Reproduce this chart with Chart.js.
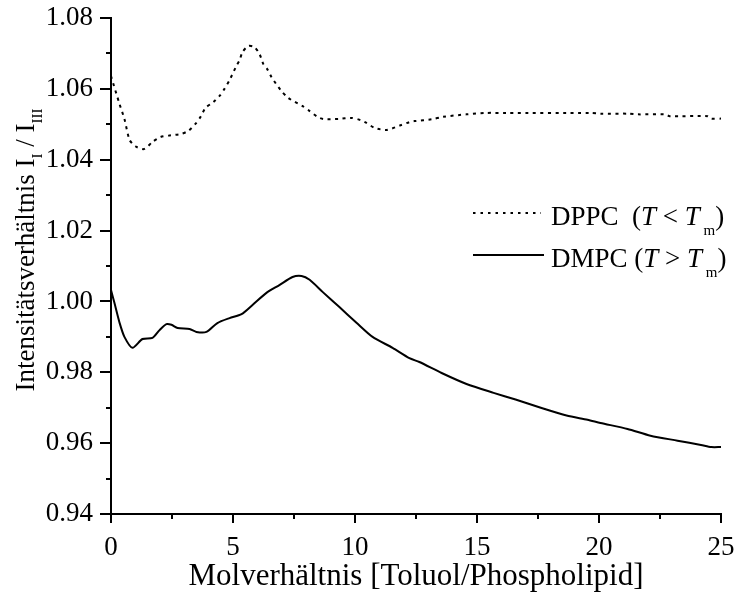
<!DOCTYPE html>
<html>
<head>
<meta charset="utf-8">
<script src="https://cdn.jsdelivr.net/npm/chart.js@4/dist/chart.umd.min.js"></script>
<style>
  html, body { margin: 0; padding: 0; background: #fff; }
  #wrap { width: 735px; height: 595px; }
</style>
</head>
<body>
<div id="wrap"><canvas id="lineChart"></canvas></div>
<script>
// Molverhaeltnis (x) und Intensitaetsverhaeltnis (y)
var dppcX = [0, 0.35, 0.55, 0.76, 1.0, 1.35, 1.7, 2.03, 2.36, 2.89, 3.18, 3.46, 3.67, 3.87, 4.2, 4.45, 4.65, 4.86, 5.14, 5.27, 5.39, 5.63, 5.88, 6.09, 6.25, 6.41, 6.58, 6.95, 7.27, 7.84, 8.13, 8.46, 8.7, 9.32, 9.86, 10.23, 10.47, 10.8, 11.29, 11.9, 12.23, 12.44, 13.14, 13.6, 14.57, 15.39, 16.2, 19.65, 20.06, 21.2, 21.6, 22.7, 22.9, 24.45, 24.6, 25];
var dppcY = [1.0636, 1.0557, 1.0515, 1.0456, 1.0438, 1.0430, 1.0450, 1.0464, 1.0468, 1.0473, 1.0482, 1.0501, 1.0521, 1.0546, 1.0563, 1.0580, 1.0600, 1.0625, 1.0665, 1.0681, 1.0704, 1.0721, 1.0718, 1.0698, 1.0669, 1.0655, 1.0633, 1.0597, 1.0574, 1.0552, 1.0538, 1.0521, 1.0515, 1.0515, 1.0518, 1.0512, 1.0504, 1.0490, 1.0484, 1.0498, 1.0506, 1.0509, 1.0514, 1.0521, 1.0528, 1.0532, 1.0532, 1.0532, 1.0530, 1.0530, 1.0528, 1.0528, 1.0523, 1.0523, 1.0516, 1.0516];

var dmpcX = [0, 0.14, 0.35, 0.55, 0.88, 1.29, 1.7, 1.99, 2.27, 2.48, 2.73, 3.22, 3.5, 3.91, 4.36, 4.86, 5.35, 5.8, 6.37, 6.9, 7.44, 7.81, 8.14, 8.67, 9.36, 10.06, 10.72, 11.54, 12.23, 12.64, 13.55, 14.57, 15.68, 16.58, 17.52, 18.67, 19.53, 20.06, 21.17, 22.11, 23.22, 24.18, 24.6, 25];
var dmpcY = [1.0032, 0.9996, 0.9940, 0.9900, 0.9869, 0.9894, 0.9897, 0.9919, 0.9936, 0.9934, 0.9925, 0.9922, 0.9914, 0.9914, 0.9939, 0.9953, 0.9964, 0.9990, 1.0024, 1.0046, 1.0069, 1.0072, 1.0061, 1.0027, 0.9984, 0.9940, 0.9900, 0.9869, 0.9840, 0.9829, 0.9798, 0.9767, 0.9742, 0.9723, 0.9702, 0.9678, 0.9666, 0.9657, 0.9640, 0.9621, 0.9607, 0.9595, 0.9589, 0.9589];

var xTicks = [0, 5, 10, 15, 20, 25];
var xMinorTicks = [2.5, 7.5, 12.5, 17.5, 22.5];
var yTicks = [0.94, 0.96, 0.98, 1.00, 1.02, 1.04, 1.06, 1.08];
var yMinorTicks = [0.95, 0.97, 0.99, 1.01, 1.03, 1.05, 1.07];

var FONT = "'Liberation Serif', 'Times New Roman', serif";

function toPoints(xs, ys) {
    var pts = [];
    for (var i in xs) {
        pts.push({x: xs[i], y: ys[i]});
    }
    return pts;
}

// Text mit kursiven Teilen und Indizes zeichnen
function drawRich(ctx, parts, x, y, size, subDrop) {
    var cx = x;
    for (var i = 0; i < parts.length; i++) {
        var p = parts[i];
        var s = p.sub ? Math.round(size * 0.55) : size;
        ctx.font = (p.italic ? 'italic ' : '') + s + 'px ' + FONT;
        ctx.fillText(p.t, cx, p.sub ? y + size * subDrop : y);
        cx += ctx.measureText(p.t).width;
    }
    return cx;
}

var extras = {
    id: 'extras',
    afterDraw: function(chart) {
        var ctx = chart.ctx;
        var xs = chart.scales.x, ys = chart.scales.y;
        var area = chart.chartArea;
        ctx.save();
        ctx.strokeStyle = '#000';
        ctx.lineWidth = 2;
        // kleine Striche
        yMinorTicks.forEach(function(v) {
            var py = Math.round(ys.getPixelForValue(v));
            ctx.beginPath();
            ctx.moveTo(area.left - 5, py);
            ctx.lineTo(area.left, py);
            ctx.stroke();
        });
        xMinorTicks.forEach(function(v) {
            var px = Math.round(xs.getPixelForValue(v));
            ctx.beginPath();
            ctx.moveTo(px, area.bottom);
            ctx.lineTo(px, area.bottom + 5);
            ctx.stroke();
        });

        // Legende
        ctx.fillStyle = '#000';
        ctx.textBaseline = 'alphabetic';
        ctx.textAlign = 'left';
        ctx.lineWidth = 2;
        ctx.setLineDash([2.5, 5]);
        ctx.beginPath();
        ctx.moveTo(473, 213);
        ctx.lineTo(541, 213);
        ctx.stroke();
        ctx.setLineDash([]);
        ctx.beginPath();
        ctx.moveTo(473, 255);
        ctx.lineTo(544, 255);
        ctx.stroke();
        drawRich(ctx, [
            {t: 'DPPC  ('}, {t: 'T', italic: true}, {t: ' < '}, {t: 'T', italic: true},
            {t: ' m', sub: true}, {t: ')'}
        ], 551, 225, 27, 0.38);
        drawRich(ctx, [
            {t: 'DMPC ('}, {t: 'T', italic: true}, {t: ' > '}, {t: 'T', italic: true},
            {t: ' m', sub: true}, {t: ')'}
        ], 551, 267, 27, 0.38);

        // y-Achsentitel
        ctx.translate(34, 250);
        ctx.rotate(-Math.PI / 2);
        var parts = [{t: 'Intensitätsverhältnis I'}, {t: 'I', sub: true}, {t: ' / I'}, {t: 'III', sub: true}];
        var w = 0;
        parts.forEach(function(p) {
            ctx.font = (p.sub ? Math.round(27 * 0.55) : 27) + 'px ' + FONT;
            w += ctx.measureText(p.t).width;
        });
        drawRich(ctx, parts, -w / 2, 0, 27, 0.3);
        ctx.restore();
    }
};

var CHART = document.getElementById("lineChart");
var lineChart = new Chart(CHART, {
    type: 'line',
    data: {
        datasets: [
        {
            label: "DPPC (T < Tm)",
            data: toPoints(dppcX, dppcY),
            borderColor: "#000",
            borderWidth: 2,
            borderDash: [3, 4.5],
            fill: false,
            pointRadius: 0,
            tension: 0.25
        },
        {
            label: "DMPC (T > Tm)",
            data: toPoints(dmpcX, dmpcY),
            borderColor: "#000",
            borderWidth: 2,
            fill: false,
            pointRadius: 0,
            tension: 0.25
        }
        ]
    },
    options: {
        responsive: true,
        maintainAspectRatio: false,
        animation: false,
        devicePixelRatio: 1,
        layout: {padding: {top: 18, right: 14, left: 0, bottom: 0}},
        plugins: {
            legend: {display: false},
            tooltip: {enabled: false}
        },
        scales: {
            x: {
                type: 'linear',
                min: 0,
                max: 25,
                afterFit: function(scale) {
                    scale.height = 81;
                    scale.paddingLeft = 0;
                    scale.paddingRight = 0;
                },
                afterBuildTicks: function(scale) {
                    scale.ticks = xTicks.map(function(v) { return {value: v}; });
                },
                ticks: {
                    color: '#000',
                    font: {family: FONT, size: 27},
                    padding: 9,
                    maxRotation: 0
                },
                grid: {drawOnChartArea: false, tickLength: 9, color: '#000', lineWidth: 2},
                border: {color: '#000', width: 2},
                title: {
                    display: true,
                    text: 'Molverhältnis [Toluol/Phospholipid]',
                    color: '#000',
                    font: {family: FONT, size: 31},
                    padding: 0
                }
            },
            y: {
                type: 'linear',
                min: 0.94,
                max: 1.08,
                afterFit: function(scale) {
                    scale.width = 111;
                    scale.paddingTop = 0;
                    scale.paddingBottom = 0;
                },
                afterBuildTicks: function(scale) {
                    scale.ticks = yTicks.map(function(v) { return {value: v}; });
                },
                ticks: {
                    color: '#000',
                    font: {family: FONT, size: 27},
                    padding: 7,
                    callback: function(v) { return v.toFixed(2); }
                },
                grid: {drawOnChartArea: false, tickLength: 11, color: '#000', lineWidth: 2},
                border: {color: '#000', width: 2}
            }
        }
    },
    plugins: [extras]
});
</script>
</body>
</html>
